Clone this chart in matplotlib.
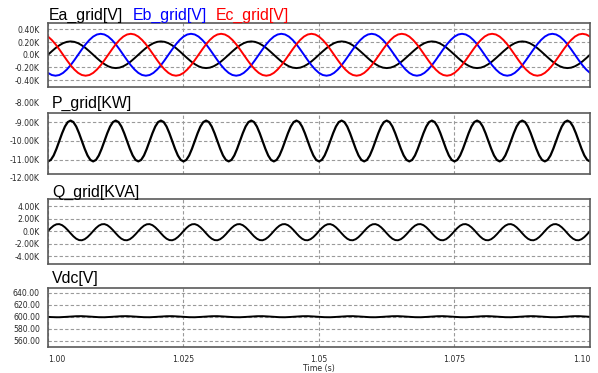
import numpy as np
import matplotlib
matplotlib.use("Agg")
import matplotlib.pyplot as plt
import matplotlib.transforms as mtransforms

ea_cycle = [0.0, 0.054, 0.105, 0.148, 0.182, 0.203, 0.21, 0.203, 0.182, 0.148, 0.105, 0.054,
            0.0, -0.054, -0.105, -0.148, -0.182, -0.203, -0.21, -0.203, -0.182, -0.148, -0.105, -0.054]
eb_cycle = [-0.286, -0.319, -0.33, -0.319, -0.286, -0.233, -0.165, -0.085, 0.0, 0.085, 0.165, 0.233,
            0.286, 0.319, 0.33, 0.319, 0.286, 0.233, 0.165, 0.085, 0.0, -0.085, -0.165, -0.233]
ec_cycle = [0.286, 0.233, 0.165, 0.085, 0.0, -0.085, -0.165, -0.233, -0.286, -0.319, -0.33, -0.319,
            -0.286, -0.233, -0.165, -0.085, 0.0, 0.085, 0.165, 0.233, 0.286, 0.319, 0.33, 0.319]
p_cycle = [-11.10, -11.02, -10.78, -10.42, -10.00, -9.58, -9.22, -8.98,
           -8.90, -8.98, -9.22, -9.58, -10.00, -10.42, -10.78, -11.02]
q_cycle = [0.03, 0.51, 0.89, 1.11, 1.14, 0.97, 0.63, 0.18,
           -0.33, -0.81, -1.19, -1.41, -1.44, -1.27, -0.93, -0.48]
vdc_cycle = [599.8, 599.4, 599.2, 599.1, 599.1, 599.3, 599.6, 599.9,
             600.3, 600.6, 600.8, 600.9, 600.9, 600.7, 600.4, 600.1]

n_grid_cycles = 6      # 60 Hz over 0.1 s
n_ripple_cycles = 12   # 120 Hz over 0.1 s

x_ticks = [1.0, 1.025, 1.05, 1.075, 1.10]
x_labels = ["1.00", "1.025", "1.05", "1.075", "1.10"]

e_ticks = [0.4, 0.2, 0.0, -0.2, -0.4]
e_labels = ["0.40K", "0.20K", "0.0K", "-0.20K", "-0.40K"]
p_ticks = [-9, -10, -11]
p_labels = ["-9.00K", "-10.00K", "-11.00K"]
p_extra = [-8, -12]
p_extra_labels = ["-8.00K", "-12.00K"]
q_ticks = [4, 2, 0, -2, -4]
q_labels = ["4.00K", "2.00K", "0.0K", "-2.00K", "-4.00K"]
v_ticks = [640, 620, 600, 580, 560]
v_labels = ["640.00", "620.00", "600.00", "580.00", "560.00"]


def tiled(cycle, n):
    vals = np.tile(np.array(cycle), n)
    vals = np.append(vals, cycle[0])
    t = np.linspace(1.0, 1.1, len(vals))
    return t, vals


W, H = 598, 373
fig = plt.figure(figsize=(W / 100, H / 100), dpi=100)

def px_axes(top, bottom, left=48, right=590):
    return fig.add_axes([left / W, 1 - bottom / H, (right - left) / W, (bottom - top) / H])

ax1 = px_axes(23, 86.5)
ax2 = px_axes(113, 174)
ax3 = px_axes(199, 263.5)
ax4 = px_axes(287.5, 346.5)
axes = [ax1, ax2, ax3, ax4]

tick_font = dict(family="DejaVu Sans", size=5.6, color="#2a2a2a")
grid_kw = dict(color="#9a9a9a", linestyle=(0, (3, 2)), linewidth=0.8)

t, ea = tiled(ea_cycle, n_grid_cycles)
ax1.plot(t, ea, color="black", lw=1.4)
t, eb = tiled(eb_cycle, n_grid_cycles)
ax1.plot(t, eb, color="#0000ff", lw=1.4)
t, ec = tiled(ec_cycle, n_grid_cycles)
ax1.plot(t, ec, color="#ff0000", lw=1.4)
ax1.set_ylim(-0.5, 0.5)
ax1.set_yticks(e_ticks, e_labels)

t, p = tiled(p_cycle, n_ripple_cycles)
ax2.plot(t, p, color="black", lw=1.6)
ax2.set_ylim(-11.78, -8.49)
ax2.set_yticks(p_ticks, p_labels)
off = mtransforms.offset_copy(ax2.get_yaxis_transform(), fig=fig, x=-5.8, y=0, units="points")
for v, lab in zip(p_extra, p_extra_labels):
    ax2.text(0, v, lab, transform=off, ha="right", va="center", clip_on=False, **tick_font)

t, q = tiled(q_cycle, n_ripple_cycles)
ax3.plot(t, q, color="black", lw=1.4)
ax3.set_ylim(-5.15, 5.15)
ax3.set_yticks(q_ticks, q_labels)

t, vdc = tiled(vdc_cycle, n_ripple_cycles)
ax4.plot(t, vdc, color="black", lw=1.4)
ax4.set_ylim(550, 649)
ax4.set_yticks(v_ticks, v_labels)

for ax in axes:
    ax.set_xlim(1.0, 1.1)
    ax.set_xticks(x_ticks)
    ax.grid(True, **grid_kw)
    ax.set_axisbelow(True)
    ax.tick_params(length=0, pad=5.8)
    for lab in ax.get_yticklabels():
        lab.set_fontfamily(tick_font["family"])
        lab.set_fontsize(tick_font["size"])
        lab.set_color(tick_font["color"])
    for s in ax.spines.values():
        s.set_color("#5a5a5a")
        s.set_linewidth(1.2)
    if ax is not ax4:
        ax.set_xticklabels([])

ax4.set_xticklabels(x_labels, **tick_font)
xl = ax4.get_xticklabels()
xl[0].set_ha("left")
xl[-1].set_ha("right")
fig.text(319 / W, 1 - 369 / H, "Time (s)", ha="center", va="center", **tick_font)

title_font = dict(family="Liberation Sans", size=11.4, va="baseline")
fig.text(49 / W, 1 - 20 / H, "Ea_grid[V]", color="black", **title_font)
fig.text(133 / W, 1 - 20 / H, "Eb_grid[V]", color="#0000ff", **title_font)
fig.text(216 / W, 1 - 20 / H, "Ec_grid[V]", color="#ff0000", **title_font)
fig.text(52 / W, 1 - 107.5 / H, "P_grid[KW]", color="black", **title_font)
fig.text(52 / W, 1 - 196.5 / H, "Q_grid[KVA]", color="black", **title_font)
fig.text(52 / W, 1 - 283.5 / H, "Vdc[V]", color="black", **title_font)

fig.savefig("out.png", dpi=100)
